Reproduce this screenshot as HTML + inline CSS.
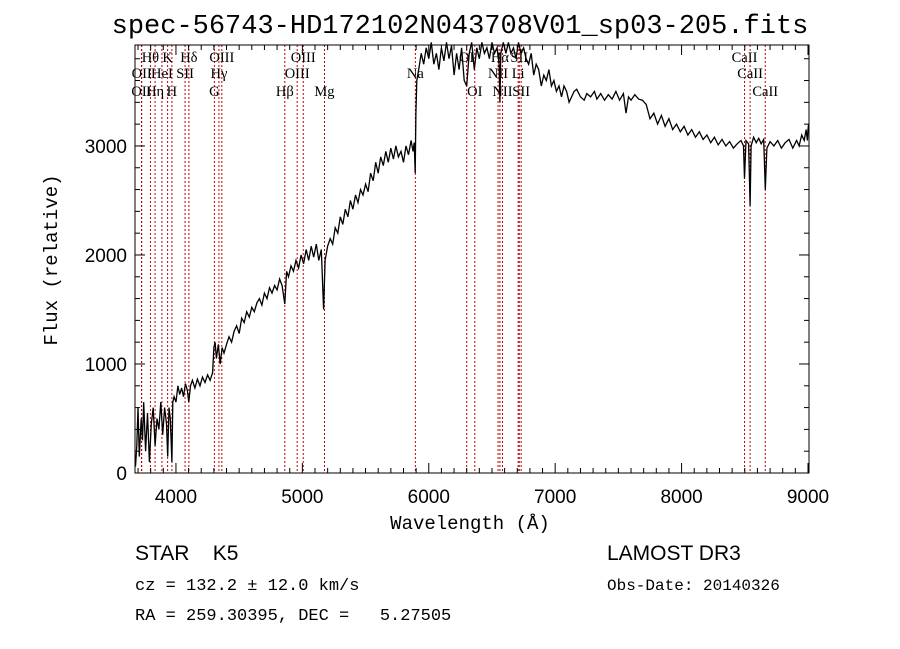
<!DOCTYPE html>
<html><head><meta charset="utf-8"><style>
html,body{margin:0;padding:0;background:#fff;}
svg{display:block;}
text{fill:#000;}
</style></head><body>
<svg id="chart" width="900" height="649" viewBox="0 0 900 649" xmlns="http://www.w3.org/2000/svg">
<rect width="900" height="649" fill="#fff"/>
<text x="460" y="33" text-anchor="middle" font-family="Liberation Mono, monospace" font-size="27">spec-56743-HD172102N043708V01_sp03-205.fits</text>
<g id="lines"></g>
<g id="labels" font-family="Liberation Serif, serif" font-size="14.5"></g>
<path id="spec" fill="none" stroke="#000" stroke-width="1.3"/>
<rect x="135" y="45" width="674" height="428" fill="none" stroke="#000" stroke-width="1"/>
<g id="ticks" stroke="#000" stroke-width="1"></g>
<g id="ticklabels" font-family="Liberation Sans, sans-serif" font-size="19"></g>
<text x="470" y="529" text-anchor="middle" font-family="Liberation Mono, monospace" font-size="19">Wavelength (Å)</text>
<text transform="translate(57,260) rotate(-90)" text-anchor="middle" font-family="Liberation Mono, monospace" font-size="19">Flux (relative)</text>
<text x="135" y="560" font-family="Liberation Sans, sans-serif" font-size="21" xml:space="preserve">STAR    K5</text>
<text x="135" y="590" font-family="Liberation Mono, monospace" font-size="17">cz = 132.2 ± 12.0 km/s</text>
<text x="135" y="620" font-family="Liberation Mono, monospace" font-size="17" xml:space="preserve">RA = 259.30395, DEC =   5.27505</text>
<text x="607" y="560" font-family="Liberation Sans, sans-serif" font-size="21">LAMOST DR3</text>
<text x="607" y="590" font-family="Liberation Mono, monospace" font-size="16">Obs-Date: 20140326</text>
</svg>
<script>
const wavelengths=[3680,3690,3700,3710,3725,3735,3745,3760,3775,3790,3805,3820,3835,3850,3865,3880,3895,3910,3925,3935,3945,3955,3968,3975,3985,4000,4015,4030,4045,4060,4075,4090,4102,4115,4130,4150,4170,4190,4210,4230,4250,4270,4290,4300,4310,4320,4335,4350,4365,4380,4400,4420,4440,4460,4480,4500,4520,4540,4560,4580,4600,4620,4640,4660,4680,4700,4720,4740,4760,4780,4800,4820,4840,4861,4875,4890,4910,4930,4950,4970,4990,5010,5030,5050,5070,5090,5110,5130,5150,5168,5180,5200,5220,5240,5260,5280,5300,5320,5340,5360,5380,5400,5420,5440,5460,5480,5500,5520,5540,5560,5580,5600,5620,5640,5660,5680,5700,5720,5740,5760,5780,5800,5820,5840,5860,5875,5885,5893,5898,5905,5920,5940,5960,5980,6000,6020,6040,6060,6080,6100,6120,6140,6160,6180,6200,6220,6240,6260,6280,6300,6320,6340,6360,6380,6400,6420,6440,6460,6480,6500,6520,6540,6556,6563,6570,6590,6610,6630,6650,6670,6690,6710,6730,6750,6770,6790,6810,6830,6850,6870,6890,6910,6930,6950,6970,6990,7010,7030,7050,7070,7090,7110,7130,7150,7170,7200,7230,7250,7280,7310,7330,7360,7390,7420,7450,7480,7510,7540,7560,7580,7600,7630,7660,7690,7720,7750,7780,7810,7840,7870,7900,7930,7960,7990,8020,8050,8080,8110,8140,8170,8200,8230,8260,8290,8320,8350,8380,8410,8440,8470,8490,8498,8510,8530,8542,8550,8570,8590,8610,8630,8650,8662,8675,8700,8730,8760,8790,8820,8850,8880,8910,8930,8950,8970,8985,8995,9000,9005];
const fluxes=[60,250,600,150,500,300,650,200,550,100,450,600,250,500,400,650,350,600,450,150,600,500,100,650,700,650,800,720,780,700,820,760,650,800,850,780,860,800,880,830,900,850,920,1150,1200,1050,1180,1000,1150,1100,1180,1250,1200,1300,1350,1280,1420,1380,1480,1430,1520,1480,1560,1600,1540,1650,1600,1700,1650,1720,1680,1780,1720,1550,1850,1800,1900,1850,1950,1880,2000,1920,2050,1950,2080,1980,2100,1950,2050,1500,1950,2080,2150,2100,2250,2200,2350,2280,2420,2350,2500,2420,2550,2480,2600,2550,2650,2580,2750,2680,2850,2750,2900,2820,2950,2850,2980,2880,3000,2900,2950,2850,3000,2920,3050,2950,3030,2750,3300,3600,3700,3850,3750,3900,3800,3950,3750,3850,3700,3900,3780,3950,3800,3920,3650,3850,3700,3900,3600,3550,3850,3950,3700,3900,3800,3950,3850,3900,3800,3950,3850,3900,3750,3400,3850,3950,3850,3950,3850,3900,3800,3950,3850,3900,3800,3750,3850,3650,3750,3700,3550,3650,3600,3700,3550,3600,3500,3550,3450,3550,3500,3400,3450,3500,3520,3450,3420,3480,3450,3500,3430,3480,3420,3470,3430,3500,3420,3480,3300,3450,3420,3470,3430,3420,3380,3250,3300,3200,3280,3180,3250,3150,3200,3130,3180,3100,3150,3080,3130,3060,3100,3030,3080,3010,3060,3000,3040,2980,3020,3050,3000,2700,3050,3020,2450,3000,3080,3030,3070,3020,3060,2600,2980,3040,3000,3050,2980,3030,3060,2980,3050,3000,3100,3050,3150,3050,3150,3200];
const lineWaves=[3727,3729,3798,3835,3889,3934,3968,4072,4102,4304,4340,4363,4861,4959,5007,5175,5894,6300,6364,6548,6563,6583,6707,6716,6731,8498,8542,8662];
const lineNames=["OII","OII","Hθ","Hη","HeI","K","H","SII","Hδ","G","Hγ","OIII","Hβ","OIII","OIII","Mg","Na","OI","OI","NII","Hα","NII","Li","SII","SII","CaII","CaII","CaII"];
const lineRows=[2,1,0,2,1,0,2,1,0,2,1,0,2,1,0,2,1,0,2,1,0,2,1,0,2,0,1,2];
const xTicks=[4000,5000,6000,7000,8000,9000];
const yTicks=[0,1000,2000,3000];
const X0=135,X1=809,Y0=473,Y1=45,WMIN=3676,WMAX=9008,FMIN=0,FMAX=3926;
function xs(w){return X0+(w-WMIN)/(WMAX-WMIN)*(X1-X0);}
function ys(f){return Y0-(f-FMIN)/(FMAX-FMIN)*(Y0-Y1);}
const NS="http://www.w3.org/2000/svg";
let d="";
for(let i=0;i<wavelengths.length;i++){d+=(i?"L":"M")+xs(wavelengths[i]).toFixed(1)+","+ys(fluxes[i]).toFixed(1);}
document.getElementById('spec').setAttribute('d',d);
const lg=document.getElementById('lines'),lb=document.getElementById('labels');
const rowY=[62,78,96];
for(let i=0;i<lineWaves.length;i++){
 const x=xs(lineWaves[i]);
 const l=document.createElementNS(NS,'line');
 
 
 l.setAttribute('x1',x);l.setAttribute('x2',x);l.setAttribute('y1',Y1);l.setAttribute('y2',Y0);
 l.setAttribute('stroke','#c00000');l.setAttribute('stroke-width','1');l.setAttribute('stroke-dasharray','2,2');
 lg.appendChild(l);
 const t=document.createElementNS(NS,'text');
 
 
 t.setAttribute('x',x);t.setAttribute('y',rowY[lineRows[i]]);t.setAttribute('text-anchor','middle');
 t.textContent=lineNames[i];lb.appendChild(t);
}
const tk=document.getElementById('ticks'),tl=document.getElementById('ticklabels');
function tick(x1,y1,x2,y2){const l=document.createElementNS(NS,'line');l.setAttribute('x1',x1);l.setAttribute('y1',y1);l.setAttribute('x2',x2);l.setAttribute('y2',y2);tk.appendChild(l);}
for(let w=3700;w<=9000;w+=100){const x=xs(w);const len=(w%1000===0)?10:5;tick(x,Y0,x,Y0-len);tick(x,Y1,x,Y1+len);}
for(let f=0;f<=3800;f+=200){const y=ys(f);const len=(f%1000===0)?10:5;tick(X0,y,X0+len,y);tick(X1,y,X1-len,y);}
xTicks.forEach(w=>{const t=document.createElementNS(NS,'text');
 
 
 t.setAttribute('x',xs(w));t.setAttribute('y',Y0+30);t.setAttribute('text-anchor','middle');t.textContent=w;tl.appendChild(t);});
yTicks.forEach(f=>{const t=document.createElementNS(NS,'text');
 
 
 t.setAttribute('x',X0-8);t.setAttribute('y',ys(f)+7);t.setAttribute('text-anchor','end');t.textContent=f;tl.appendChild(t);});
</script>
</body></html>
